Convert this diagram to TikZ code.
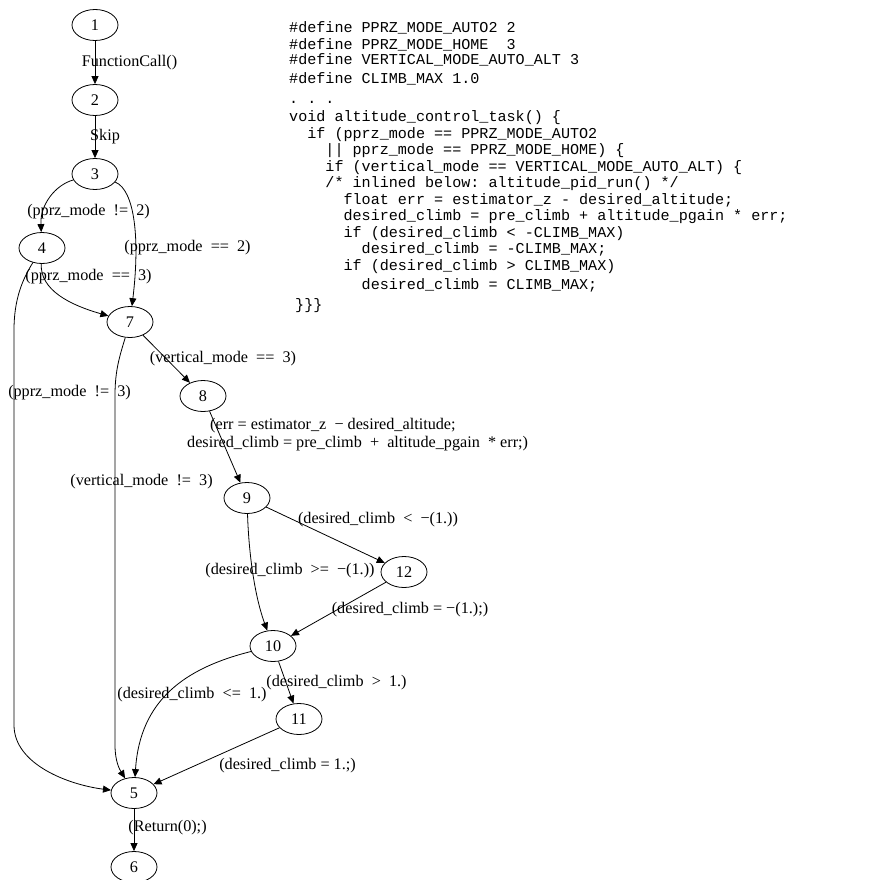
\documentclass[tikz,border=0pt]{standalone}
\usepackage{fontspec}
\setmainfont{Liberation Serif}
\setmonofont{Liberation Mono}
\usetikzlibrary{arrows.meta,shapes.geometric}
\tikzset{
  >={Triangle[length=8pt,width=7pt]},
  vtx/.style={draw,ellipse,minimum width=46pt,minimum height=31pt,inner sep=0pt,line width=0.8pt},
  lab/.style={inner sep=0pt},
  arr/.style={->,line width=0.8pt},
  code/.style={font=\fontsize{15.1}{16.5}\selectfont\ttfamily,align=left,anchor=base west,inner sep=0pt},
}
\begin{document}
\begin{tikzpicture}[x=1pt,y=1pt,font=\fontsize{16.2}{18}\selectfont]
\useasboundingbox (0,0) rectangle (875,-880);
% control flow nodes
\node[vtx] (n1) at (95,-25) {1};
\node[vtx] (n2) at (95,-100) {2};
\node[vtx] (n3) at (95,-174) {3};
\node[vtx] (n4) at (42,-248) {4};
\node[vtx] (n7) at (130,-322) {7};
\node[vtx] (n8) at (203,-396) {8};
\node[vtx] (n9) at (247,-498) {9};
\node[vtx] (n12) at (404,-572) {12};
\node[vtx] (n10) at (273,-646) {10};
\node[vtx] (n11) at (299,-719) {11};
\node[vtx] (n5) at (134,-793) {5};
\node[vtx] (n6) at (134,-867) {6};
% edges
\draw[arr] (n1) -- (n2);
\draw[arr] (n2) -- (n3);
\draw[arr] (n3) .. controls (55,-185) and (40,-205) .. (n4);
\draw[arr] (n3) .. controls (135,-190) and (140,-240) .. (n7);
\draw[arr] (n4) .. controls (40,-290) and (70,-305) .. (n7);
\draw[arr] (n4) .. controls (22,-280) and (14,-300) .. (14,-330) -- (14,-725)
  .. controls (14,-765) and (70,-785) .. (n5);
\draw[arr] (n7) .. controls (120,-355) and (115,-370) .. (115,-395) -- (115,-745)
  .. controls (115,-762) and (120,-770) .. (n5);
\draw[arr] (n7) -- (n8);
\draw[arr] (n8) -- (n9);
\draw[arr] (n9) -- (n12);
\draw[arr] (n9) .. controls (249,-560) and (256,-600) .. (n10);
\draw[arr] (n12) -- (n10);
\draw[arr] (n10) .. controls (185,-668) and (140,-700) .. (n5);
\draw[arr] (n10) -- (n11);
\draw[arr] (n11) -- (n5);
\draw[arr] (n5) -- (n6);
% edge labels
\node[lab] (l12) at (129.5,-63) {FunctionCall()};
\node[lab] (l23) at (105,-137) {Skip};
\node[lab] (l34) at (88.5,-212) {(pprz\_mode~~!=~~2)};
\node[lab] (l37) at (187.5,-248) {(pprz\_mode~~==~~2)};
\node[lab] (l47) at (88.5,-277) {(pprz\_mode~~==~~3)};
\node[lab] (l45) at (69.5,-393) {(pprz\_mode~~!=~~3)};
\node[lab] (l78) at (223,-359) {(vertical\_mode~~==~~3)};
\node[lab] (l75) at (141.5,-482) {(vertical\_mode~~!=~~3)};
\node[lab,anchor=west,align=left] (l89) at (187,-435)
  {\hspace*{23pt}(err = estimator\_z~~− desired\_altitude;\\desired\_climb = pre\_climb~~+~~altitude\_pgain~~* err;)};
\node[lab] (l912) at (378,-520) {(desired\_climb~~<~~−(1.))};
\node[lab] (l910) at (290,-571) {(desired\_climb~~>=~~−(1.))};
\node[lab] (l1210) at (410,-610) {(desired\_climb = −(1.);)};
\node[lab] (l105) at (192,-695) {(desired\_climb~~<=~~1.)};
\node[lab] (l1011) at (336.5,-683) {(desired\_climb~~>~~1.)};
\node[lab] (l115) at (287.5,-766) {(desired\_climb = 1.;)};
\node[lab] (l56) at (167.5,-828) {(Return(0);)};
% source listing (base = last line)
\node[code] (src) at (289,-309.5) {%
\#define PPRZ\_MODE\_AUTO2 2\\
\#define PPRZ\_MODE\_HOME~~3\\[-1pt]
\#define VERTICAL\_MODE\_AUTO\_ALT 3\\[2.5pt]
\#define CLIMB\_MAX 1.0\\[3.5pt]
.~.~.\\[1.5pt]
void altitude\_control\_task() \{\\
~~if (pprz\_mode == PPRZ\_MODE\_AUTO2\\
~~~~|| pprz\_mode == PPRZ\_MODE\_HOME) \{\\
~~~~if (vertical\_mode == VERTICAL\_MODE\_AUTO\_ALT) \{\\
~~~~/* inlined below: altitude\_pid\_run() */\\
~~~~~~float err = estimator\_z - desired\_altitude;\\
~~~~~~desired\_climb = pre\_climb + altitude\_pgain * err;\\
~~~~~~if (desired\_climb < -CLIMB\_MAX)\\
~~~~~~~~desired\_climb = -CLIMB\_MAX;\\
~~~~~~if (desired\_climb > CLIMB\_MAX)\\[2.5pt]
~~~~~~~~desired\_climb = CLIMB\_MAX;\\[4pt]
\hspace*{6pt}\}\}\}};
\end{tikzpicture}
\end{document}
